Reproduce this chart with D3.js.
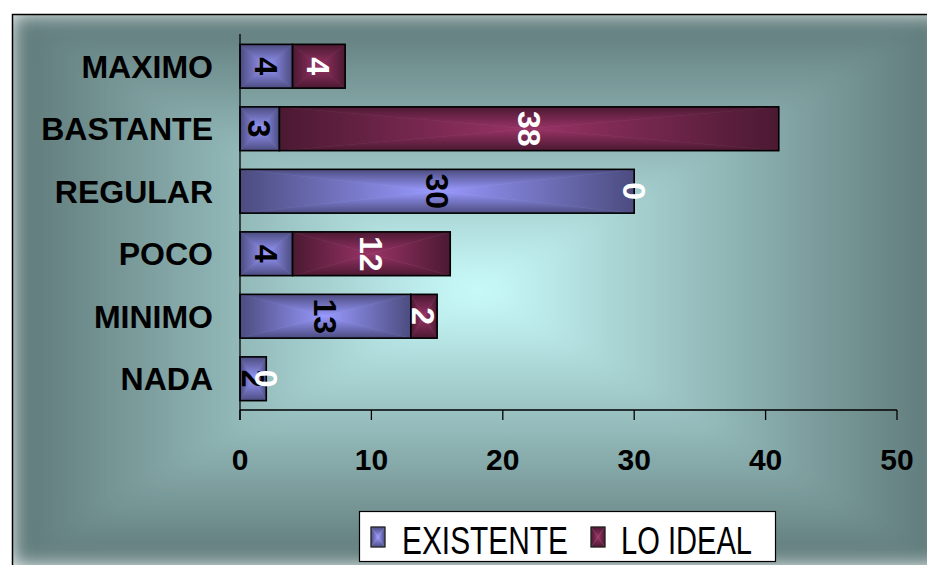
<!DOCTYPE html>
<html>
<head>
<meta charset="utf-8">
<script src="https://cdn.jsdelivr.net/npm/d3@7"></script>
<style>
  html, body { margin: 0; padding: 0; background: #ffffff; }
  svg { display: block; font-family: Arial, "Liberation Sans", sans-serif; }
</style>
</head>
<body>
<svg id="chart" width="927" height="565"></svg>
<script>
// Categories, top to bottom
const categories = ["MAXIMO", "BASTANTE", "REGULAR", "POCO", "MINIMO", "NADA"];
// Series values per category
const existente = [4, 3, 30, 4, 13, 2];
const loIdeal   = [4, 38, 0, 12, 2, 0];
const seriesNames = ["EXISTENTE", "LO IDEAL"];
// Axis ticks
const xTicks = [0, 10, 20, 30, 40, 50];

const svg = d3.select("#chart");
const defs = svg.append("defs");

// Colours: centre (light) and edge (dark) of each "from centre" gradient
const palette = {
  bg:    { center: "#cafcfc", edge: "#5e7878" },
  exist: { center: "#9999ff", edge: "#4c4c80" },
  ideal: { center: "#993366", edge: "#4b1932" }
};

// Four linear gradients (one per triangle) emulate a rectangular gradient
function makeRectGradients(key, c) {
  const specs = {
    top:    { x1: 0, y1: 0, x2: 0, y2: 1, a: c.edge,   b: c.center },
    bottom: { x1: 0, y1: 0, x2: 0, y2: 1, a: c.center, b: c.edge },
    left:   { x1: 0, y1: 0, x2: 1, y2: 0, a: c.edge,   b: c.center },
    right:  { x1: 0, y1: 0, x2: 1, y2: 0, a: c.center, b: c.edge }
  };
  Object.entries(specs).forEach(([side, s]) => {
    const lg = defs.append("linearGradient")
      .attr("id", `${key}-${side}`)
      .attr("x1", s.x1).attr("y1", s.y1).attr("x2", s.x2).attr("y2", s.y2);
    lg.append("stop").attr("offset", 0).attr("stop-color", s.a);
    lg.append("stop").attr("offset", 1).attr("stop-color", s.b);
  });
}
Object.entries(palette).forEach(([k, c]) => makeRectGradients(k, c));

// Paint a rectangle with the rectangular gradient using four triangles
function rectGradient(g, key, x, y, w, h, overlap) {
  const cx = x + w / 2, cy = y + h / 2;
  const tris = {
    top:    [[x, y], [x + w, y], [cx, cy]],
    bottom: [[x, y + h], [x + w, y + h], [cx, cy]],
    left:   [[x, y], [x, y + h], [cx, cy]],
    right:  [[x + w, y], [x + w, y + h], [cx, cy]]
  };
  Object.entries(tris).forEach(([side, pts]) => {
    g.append("path")
      .attr("d", d3.line()(pts) + "Z")
      .attr("fill", `url(#${key}-${side})`)
      .attr("stroke", overlap ? `url(#${key}-${side})` : "none")
      .attr("stroke-width", overlap || 0);
  });
}

// Chart area background (softened so the gradient seams are gentle) and frame
const frame = { x: 12, y: 14, w: 932, h: 552 };
const soften = defs.append("filter").attr("id", "soften")
  .attr("filterUnits", "userSpaceOnUse")
  .attr("x", frame.x).attr("y", frame.y).attr("width", frame.w).attr("height", frame.h);
soften.append("feGaussianBlur").attr("stdDeviation", 10).attr("edgeMode", "duplicate");
const bgG = svg.append("g").attr("filter", "url(#soften)");
bgG.append("rect").attr("x", frame.x).attr("y", frame.y).attr("width", frame.w).attr("height", frame.h)
  .attr("fill", "#94bcbc");
rectGradient(bgG, "bg", frame.x, frame.y, frame.w, frame.h, 1);
svg.append("rect")
  .attr("x", frame.x + 0.5).attr("y", frame.y + 0.5)
  .attr("width", frame.w + 20).attr("height", frame.h + 20)
  .attr("fill", "none").attr("stroke", "#000").attr("stroke-width", 1.5);

// Scales
const x = d3.scaleLinear().domain([0, 50]).range([240, 897]);
const y = d3.scaleBand().domain(categories).range([35, 410])
  .paddingInner(0.3).paddingOuter(0.15);

// Stacked data
const stackData = categories.map((c, i) => ({ cat: c, EXISTENTE: existente[i], "LO IDEAL": loIdeal[i] }));
const stacked = d3.stack().keys(seriesNames)(stackData);
const seriesKey = { "EXISTENTE": "exist", "LO IDEAL": "ideal" };
const labelColor = { "EXISTENTE": "#000000", "LO IDEAL": "#ffffff" };

// Bars
const barsG = svg.append("g");
stacked.forEach(layer => {
  layer.forEach(seg => {
    const x0 = x(seg[0]), x1 = x(seg[1]);
    const yy = y(seg.data.cat), h = y.bandwidth();
    if (x1 - x0 <= 0) return;
    const g = barsG.append("g");
    rectGradient(g, seriesKey[layer.key], x0, yy, x1 - x0, h, 0.6);
    g.append("rect")
      .attr("x", x0).attr("y", yy).attr("width", x1 - x0).attr("height", h)
      .attr("fill", "none").attr("stroke", "#000").attr("stroke-width", 1.6);
  });
});

// Axes
const axisG = svg.append("g");
axisG.append("line")
  .attr("x1", x(0)).attr("x2", x(0)).attr("y1", 34).attr("y2", 420)
  .attr("stroke", "#000").attr("stroke-width", 1.3);
axisG.append("line")
  .attr("x1", x(0)).attr("x2", x(50)).attr("y1", 410).attr("y2", 410)
  .attr("stroke", "#000").attr("stroke-width", 1.3);
axisG.selectAll("line.tick").data(xTicks).join("line")
  .attr("class", "tick")
  .attr("x1", d => x(d)).attr("x2", d => x(d)).attr("y1", 410).attr("y2", 420)
  .attr("stroke", "#000").attr("stroke-width", 1.3);
axisG.selectAll("text.tl").data(xTicks).join("text")
  .attr("class", "tl")
  .attr("x", d => x(d)).attr("y", 470)
  .attr("text-anchor", "middle")
  .attr("font-size", 30).attr("font-weight", "bold").attr("fill", "#000")
  .text(d => d);

// Category labels
const catFs = 32;
svg.append("g").selectAll("text").data(categories).join("text")
  .attr("x", 213)
  .attr("y", d => y(d) + y.bandwidth() / 2 + 11.5)
  .attr("text-anchor", "end")
  .attr("font-size", catFs).attr("font-weight", "bold").attr("fill", "#000")
  .text(d => d);

// Value labels, rotated, centred on each segment
const valFs = 32;
const labelsG = svg.append("g");
stacked.forEach(layer => {
  layer.forEach(seg => {
    const v = seg[1] - seg[0];
    const cx = (x(seg[0]) + x(seg[1])) / 2;
    const cy = y(seg.data.cat) + y.bandwidth() / 2;
    labelsG.append("text")
      .attr("transform", `translate(${cx},${cy}) rotate(90)`)
      .attr("x", 0).attr("y", valFs * 0.358)
      .attr("text-anchor", "middle")
      .attr("font-size", valFs).attr("font-weight", "bold")
      .attr("fill", labelColor[layer.key])
      .text(v);
  });
});

// Legend
const leg = svg.append("g");
leg.append("rect")
  .attr("x", 359.5).attr("y", 511.5).attr("width", 416).attr("height", 50)
  .attr("fill", "#fff").attr("stroke", "#000").attr("stroke-width", 1.2);
const legItems = [
  { name: seriesNames[0], key: "exist", mx: 371, tx: 402, tl: 166 },
  { name: seriesNames[1], key: "ideal", mx: 591, tx: 621, tl: 131 }
];
legItems.forEach(it => {
  const g = leg.append("g");
  rectGradient(g, it.key, it.mx, 527, 14, 20, 0.4);
  g.append("rect").attr("x", it.mx).attr("y", 527).attr("width", 14).attr("height", 20)
    .attr("fill", "none").attr("stroke", "#222").attr("stroke-width", 1.2);
  g.append("text")
    .attr("x", it.tx).attr("y", 554)
    .attr("font-size", 39).attr("fill", "#000")
    .attr("textLength", it.tl).attr("lengthAdjust", "spacingAndGlyphs")
    .text(it.name);
});
</script>
</body>
</html>
